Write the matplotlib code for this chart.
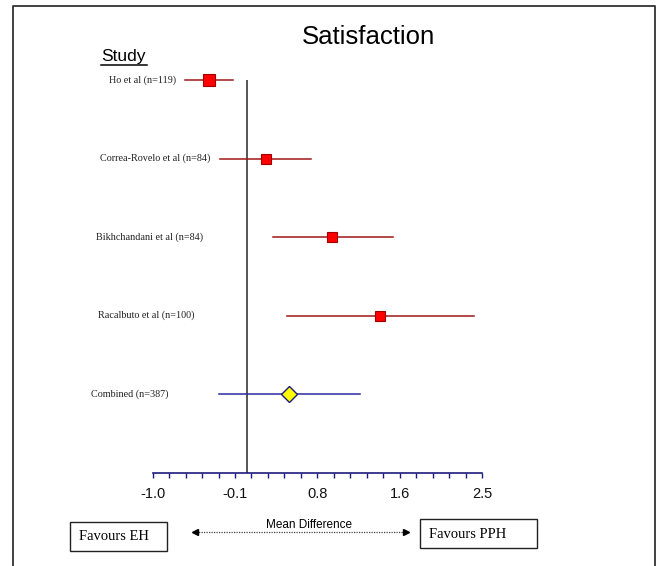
import matplotlib
matplotlib.use("Agg")
import matplotlib.pyplot as plt
from matplotlib.lines import Line2D
from matplotlib.patches import Rectangle
import matplotlib.transforms as mtrans

# ---- data ----
studies = ["Ho et al (n=119)", "Correa-Rovelo et al (n=84)", "Bikhchandani et al (n=84)",
           "Racalbuto et al (n=100)", "Combined (n=387)"]
means = [-0.40, 0.20, 0.91, 1.42, 0.445]
lower = [-0.66, -0.285, 0.275, 0.43, -0.30]
upper = [-0.15, 0.68, 1.55, 2.41, 1.20]
marker_sizes = [8.2, 6.6, 6.6, 6.8]
tick_values = [-1.0 + 0.175 * i for i in range(21)]
tick_labels = ["-1.0", "-0.1", "0.8", "1.6", "2.5"]

# ---- layout helpers (figure pixel coords) ----
W, H = 660, 566
def fx(px): return px / W
def fy(py): return 1 - py / H

fig = plt.figure(figsize=(6.6, 5.66), dpi=100)
ax = fig.add_axes([fx(152.7), fy(472.7), fx(482) - fx(152.7), fy(80) - fy(472.7)])
ax.set_xlim(-1.0, 2.5)
ax.set_ylim(len(studies), 0)

for s in ["top", "left", "right"]:
    ax.spines[s].set_visible(False)
ax.spines["bottom"].set_color("#1c1c7a")
ax.spines["bottom"].set_linewidth(1.2)
ax.set_yticks([])

labs = []
j = 0
for i, v in enumerate(tick_values):
    if i % 5 == 0:
        labs.append(tick_labels[j]); j += 1
    else:
        labs.append("")
ax.set_xticks(tick_values)
ax.set_xticklabels(labs, fontfamily="Liberation Sans", fontsize=10.5, color="#111111")
ax.tick_params(axis="x", direction="out", length=3.5, width=1, color="#1c1c7a", pad=6.5)

ax.axvline(0, color="#555555", lw=1.4, zorder=1)

label_x = [109, 100, 96, 97.7, 90.7]
blend = mtrans.blended_transform_factory(fig.transFigure, ax.transData)
for i, name in enumerate(studies):
    ax.text(fx(label_x[i]), i, name, transform=blend, ha="left", va="center",
            fontfamily="Liberation Serif", fontsize=7.3, color="#222222")

for i in range(4):
    ax.plot([lower[i], upper[i]], [i, i], color="#a01818", lw=1.1, zorder=2, clip_on=False)
    ax.plot(means[i], i, marker="s", ms=marker_sizes[i], mfc="#ff0000", mec="#a00000",
            mew=0.8, zorder=3, clip_on=False)
k = 4
ax.plot([lower[k], upper[k]], [k, k], color="#2a2aa0", lw=1.1, zorder=2, clip_on=False)
ax.plot(means[k], k, marker="D", ms=8, mfc="#ffff00", mec="#1c1c7a", mew=1.0,
        zorder=3, clip_on=False)

# ---- titles ----
fig.text(fx(368.4), fy(37), "Satisfaction", ha="center", va="center",
         fontfamily="Liberation Sans", fontsize=18.5)
fig.text(fx(100.7), fy(56), "Study", ha="left", va="center",
         fontfamily="Liberation Sans", fontsize=12.5)
fig.add_artist(Line2D([fx(100.7), fx(146.7)], [fy(64.5), fy(64.5)], color="black", lw=1.1,
                      transform=fig.transFigure))

# ---- bottom annotation ----
fig.text(fx(309), fy(525), "Mean Difference", ha="center", va="center",
         fontfamily="Liberation Sans", fontsize=8.5)
fig.add_artist(Line2D([fx(196), fx(405)], [fy(532.3), fy(532.3)], color="#444444", lw=0.9,
                      ls=(0, (1, 1)), transform=fig.transFigure))
fig.add_artist(Line2D([fx(195)], [fy(532.3)], marker="<", ms=5, color="black",
                      transform=fig.transFigure))
fig.add_artist(Line2D([fx(406)], [fy(532.3)], marker=">", ms=5, color="black",
                      transform=fig.transFigure))

fig.add_artist(Rectangle((fx(70), fy(550.7)), fx(166.7) - fx(70), fy(522.3) - fy(550.7),
                         fill=False, ec="#222222", lw=1.0, transform=fig.transFigure))
fig.text(fx(79.3), fy(536.7), "Favours EH", ha="left", va="center",
         fontfamily="Liberation Serif", fontsize=10.5)
fig.add_artist(Rectangle((fx(420), fy(548.3)), fx(537.3) - fx(420), fy(519.3) - fy(548.3),
                         fill=False, ec="#222222", lw=1.0, transform=fig.transFigure))
fig.text(fx(429.3), fy(534), "Favours PPH", ha="left", va="center",
         fontfamily="Liberation Serif", fontsize=10.5)

# ---- outer frame (open at bottom) ----
fig.add_artist(Line2D([fx(13), fx(13), fx(655), fx(655)], [fy(566), fy(6), fy(6), fy(566)],
                      color="#333333", lw=1.3, transform=fig.transFigure))

fig.savefig("out.png", dpi=100)
